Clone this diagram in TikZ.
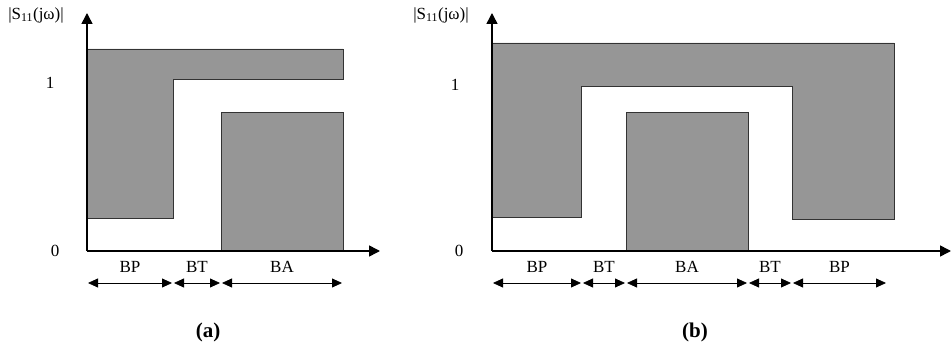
\documentclass[tikz,border=0pt]{standalone}
\usepackage{fontspec}
\setmainfont{Liberation Serif}
\usetikzlibrary{arrows.meta}
\definecolor{bandgray}{RGB}{150,150,150}
\begin{document}
\begin{tikzpicture}[x=1pt,y=-1pt,
  axis/.style={line width=1.5pt,-{Triangle[length=11pt,width=11pt]}},
  band/.style={fill=bandgray,draw=black!80,line width=0.9pt},
  dim/.style={line width=0.8pt,{Triangle[length=10pt,width=9pt]}-{Triangle[length=10pt,width=9pt]},shorten <=1pt,shorten >=1pt},
  lbl/.style={font=\fontsize{17}{19}\selectfont,inner sep=0pt},
  captxt/.style={font=\bfseries\fontsize{21}{23}\selectfont,inner sep=0pt}]
\useasboundingbox (0,0) rectangle (951,347);
% ---------- panel (a)
\draw[band] (87,49) -- (343,49) -- (343,79) -- (173,79) -- (173,218) -- (87,218) -- cycle;
\draw[band] (221,112) rectangle (343,251);
\coordinate (ao) at (87,251);
\coordinate (ayt) at (87,13);
\coordinate (axt) at (380,251);
\draw[axis] (ao) -- (ayt);
\draw[axis] (ao) -- (axt);
\node[lbl] (ay) at (36,15) {|S\textsubscript{11}(jω)|};
\node[lbl] (a1) at (50,83) {1};
\node[lbl] (a0) at (55,251) {0};
\coordinate (a-p0) at (87,283);
\coordinate (a-p1) at (173,283);
\coordinate (a-p2) at (221,283);
\coordinate (a-p3) at (343,283);
\draw[dim] (a-p0) -- node[lbl,above=10pt] (abp) {BP} (a-p1);
\draw[dim] (a-p1) -- node[lbl,above=10pt] (abt) {BT} (a-p2);
\draw[dim] (a-p2) -- node[lbl,above=10pt] (aba) {BA} (a-p3);
\node[captxt] (capa) at (208,332) {(a)};
% ---------- panel (b)
\draw[band] (492,43) -- (894,43) -- (894,219) -- (792,219) -- (792,86) -- (581,86) -- (581,217) -- (492,217) -- cycle;
\draw[band] (626,112) rectangle (748,251);
\coordinate (bo) at (492,251);
\coordinate (byt) at (492,13);
\coordinate (bxt) at (951,251);
\draw[axis] (bo) -- (byt);
\draw[axis] (bo) -- (bxt);
\node[lbl] (by) at (441,15) {|S\textsubscript{11}(jω)|};
\node[lbl] (b1) at (455,85) {1};
\node[lbl] (b0) at (459,251) {0};
\coordinate (b-p0) at (492,283);
\coordinate (b-p1) at (582,283);
\coordinate (b-p2) at (626,283);
\coordinate (b-p3) at (748,283);
\coordinate (b-p4) at (792,283);
\coordinate (b-p5) at (887,283);
\draw[dim] (b-p0) -- node[lbl,above=10pt] (bbp1) {BP} (b-p1);
\draw[dim] (b-p1) -- node[lbl,above=10pt] (bbt1) {BT} (b-p2);
\draw[dim] (b-p2) -- node[lbl,above=10pt] (bba) {BA} (b-p3);
\draw[dim] (b-p3) -- node[lbl,above=10pt] (bbt2) {BT} (b-p4);
\draw[dim] (b-p4) -- node[lbl,above=10pt] (bbp2) {BP} (b-p5);
\node[captxt] (capb) at (695,332) {(b)};
\end{tikzpicture}
\end{document}
